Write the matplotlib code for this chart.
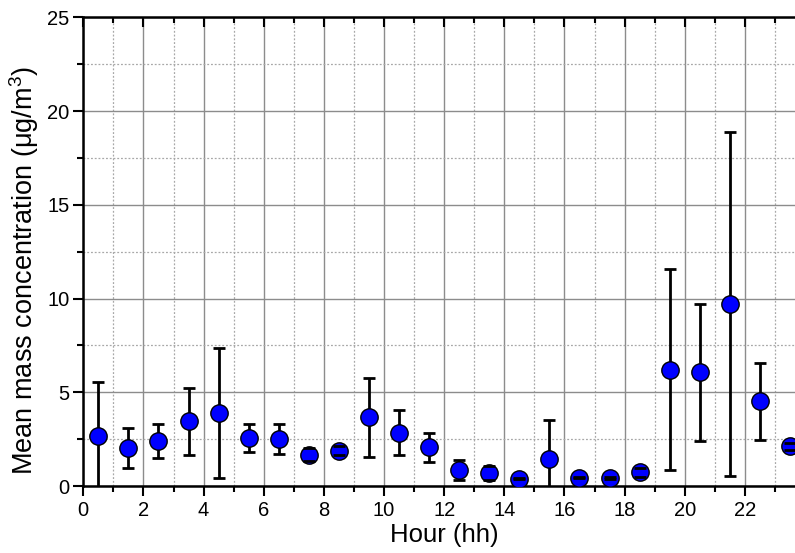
import matplotlib
matplotlib.use("Agg")
import matplotlib.pyplot as plt
from matplotlib.ticker import MultipleLocator, FixedLocator

plt.rcParams['font.family'] = ['Liberation Sans', 'DejaVu Sans']
plt.rcParams['mathtext.fontset'] = 'custom'
plt.rcParams['mathtext.rm'] = 'Liberation Sans'
plt.rcParams['mathtext.it'] = 'Liberation Sans:italic'

hours = [0.5, 1.5, 2.5, 3.5, 4.5, 5.5, 6.5, 7.5, 8.5, 9.5, 10.5, 11.5,
         12.5, 13.5, 14.5, 15.5, 16.5, 17.5, 18.5, 19.5, 20.5, 21.5, 22.5, 23.5]
mean_conc = [2.67, 2.01, 2.40, 3.45, 3.88, 2.56, 2.51, 1.67, 1.88, 3.66, 2.83, 2.06,
             0.85, 0.71, 0.39, 1.42, 0.44, 0.44, 0.73, 6.20, 6.06, 9.72, 4.53, 2.12]
std_err = [2.86, 1.06, 0.93, 1.78, 3.47, 0.77, 0.81, 0.36, 0.24, 2.11, 1.20, 0.78,
           0.55, 0.37, 0.03, 2.10, 0.03, 0.06, 0.24, 5.35, 3.64, 9.18, 2.05, 0.20]
x_major_ticks = [0, 2, 4, 6, 8, 10, 12, 14, 16, 18, 20, 22]

W, H = 795, 553
fig = plt.figure(figsize=(W / 100, H / 100), dpi=100)
x0, x1 = 83.3, 805.0
ytop, ybot = 17.3, 486.0
ax = fig.add_axes([x0 / W, (H - ybot) / H, (x1 - x0) / W, (ybot - ytop) / H])

eb = ax.errorbar(hours, mean_conc, yerr=std_err, fmt='none', ecolor='black',
                 elinewidth=2.0, capsize=4.3, capthick=2.0)
_, caplines, barcols = eb.lines
for c in barcols:
    c.set_zorder(2.5)
for c in caplines:
    c.set_zorder(4)
ax.plot(hours, mean_conc, 'o', ms=12.5, mfc='#0000ff', mec='black', mew=1.0,
        zorder=3)

ax.set_xlim(0, 24)
ax.set_ylim(0, 25)
ax.xaxis.set_major_locator(FixedLocator(x_major_ticks))
ax.xaxis.set_minor_locator(MultipleLocator(1))
ax.yaxis.set_major_locator(MultipleLocator(5))
ax.yaxis.set_minor_locator(MultipleLocator(2.5))

ax.grid(which='major', color='#8c8c8c', lw=1.0, ls='-')
ax.grid(which='minor', color='#a8a8a8', lw=0.9, ls=(0, (1.5, 1.5)))
ax.set_axisbelow(True)

ax.tick_params(axis='x', which='major', direction='out', length=7, width=1.5,
               top=True, labelsize=14.5, pad=4)
ax.tick_params(axis='x', which='minor', direction='out', length=4.5, width=1.5, top=True)
ax.tick_params(axis='y', which='major', direction='out', length=7, width=1.5,
               right=True, labelsize=14.5, pad=3)
ax.tick_params(axis='y', which='minor', direction='out', length=4.5, width=1.5, right=True)
for t in ax.xaxis.get_major_ticks() + ax.xaxis.get_minor_ticks():
    t.tick2line.set_marker(matplotlib.lines.TICKDOWN)
for t in ax.yaxis.get_major_ticks() + ax.yaxis.get_minor_ticks():
    t.tick2line.set_marker(matplotlib.lines.TICKLEFT)

for s in ax.spines.values():
    s.set_linewidth(1.8)

ax.set_xlabel('Hour (hh)', fontsize=18.5, labelpad=2)
ax.set_ylabel('Mean mass concentration (\u03bcg/m$^3$)', fontsize=19.5)
ax.yaxis.set_label_coords(-0.058, 0.46)

fig.savefig('out.png', dpi=100)
